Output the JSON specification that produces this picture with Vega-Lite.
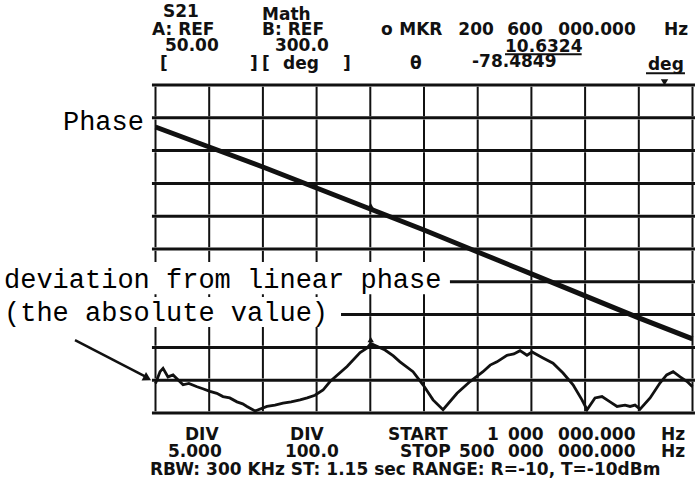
{
  "$schema": "https://vega.github.io/schema/vega-lite/v6.json",
  "width": 537,
  "height": 328,
  "autosize": {"type": "none"},
  "padding": {"left": 155.5, "top": 85, "right": 5.5, "bottom": 66},
  "background": "white",
  "config": {"view": {"stroke": null}},
  "datasets": {
    "vlines": [{"f": 1}, {"f": 50.9}, {"f": 100.8}, {"f": 150.7}, {"f": 200.6}, {"f": 250.5}, {"f": 300.4}, {"f": 350.3}, {"f": 400.2}, {"f": 450.1}, {"f": 500}],
    "hlines": [
      {"d": 50, "f0": -2.3, "f1": 502.3}, {"d": 45, "f0": -2.3, "f1": 502.3}, {"d": 40, "f0": -2.3, "f1": 502.3},
      {"d": 35, "f0": -2.3, "f1": 502.3}, {"d": 30, "f0": -2.3, "f1": 502.3}, {"d": 25, "f0": -2.3, "f1": 502.3},
      {"d": 20, "f0": 274.6, "f1": 502.3}, {"d": 15, "f0": 173.4, "f1": 502.3},
      {"d": 10, "f0": -2.3, "f1": 502.3}, {"d": 5, "f0": -2.3, "f1": 502.3}, {"d": 0, "f0": -2.3, "f1": 502.3}
    ],
    "masks": [
      {"f0": -143.5, "f1": 271.9, "d0": 23.0, "d1": 18.1},
      {"f0": -143.5, "f1": 170.6, "d0": 17.7, "d1": 13.1}
    ],
    "arrow": [{"f0": -73.8, "d0": 11.1, "f1": -7.8, "d1": 5.5}],
    "arrowhead": [{"f": -6.5, "d": 5.3}],
    "underline": [{"f0": 325.8, "f1": 397.0, "d": 54.7}, {"f0": 456.8, "f1": 493.0, "d": 51.8}],
    "phase": [
      {"f": 1, "phase": 172}, {"f": 50.9, "phase": 111}, {"f": 100.8, "phase": 50}, {"f": 150.7, "phase": -14},
      {"f": 200.6, "phase": -78}, {"f": 250.5, "phase": -142}, {"f": 300.4, "phase": -209}, {"f": 350.3, "phase": -276},
      {"f": 400.2, "phase": -343}, {"f": 450.1, "phase": -410}, {"f": 500, "phase": -474}
    ],
    "dev": [
      {"f": 1, "dev": 4.5}, {"f": 5.2, "dev": 6.3}, {"f": 8, "dev": 6.8}, {"f": 12.6, "dev": 5.5}, {"f": 17.3, "dev": 5.8},
      {"f": 26.6, "dev": 4.3}, {"f": 32, "dev": 4.5}, {"f": 39.6, "dev": 4.0}, {"f": 45, "dev": 3.7}, {"f": 51.6, "dev": 3.3},
      {"f": 58, "dev": 3.0}, {"f": 63.7, "dev": 2.5}, {"f": 70, "dev": 2.3}, {"f": 76.7, "dev": 1.7}, {"f": 82, "dev": 1.4},
      {"f": 86, "dev": 1.0}, {"f": 93.5, "dev": 0.3}, {"f": 104.6, "dev": 1.0}, {"f": 112, "dev": 1.2}, {"f": 119.5, "dev": 1.5},
      {"f": 127, "dev": 1.7}, {"f": 135.3, "dev": 2.0}, {"f": 142, "dev": 2.3}, {"f": 149.2, "dev": 2.7}, {"f": 156.7, "dev": 3.5},
      {"f": 163.2, "dev": 4.8}, {"f": 179, "dev": 7.1}, {"f": 191.1, "dev": 9.2}, {"f": 197.6, "dev": 9.9}, {"f": 201, "dev": 10.6},
      {"f": 214.3, "dev": 9.6}, {"f": 222, "dev": 8.7}, {"f": 228.2, "dev": 7.8}, {"f": 240.3, "dev": 6.3}, {"f": 249.6, "dev": 4.3},
      {"f": 258.9, "dev": 2.0}, {"f": 268.2, "dev": 0.5}, {"f": 281.2, "dev": 3.0}, {"f": 293.3, "dev": 4.8}, {"f": 305.3, "dev": 6.3},
      {"f": 312, "dev": 7.3}, {"f": 318.3, "dev": 7.8}, {"f": 327.6, "dev": 8.8}, {"f": 334, "dev": 9.0}, {"f": 339.7, "dev": 9.5},
      {"f": 346.2, "dev": 8.8}, {"f": 350.9, "dev": 9.3}, {"f": 361.1, "dev": 8.4}, {"f": 370.4, "dev": 7.6}, {"f": 379.7, "dev": 6.1},
      {"f": 389, "dev": 4.3}, {"f": 397.3, "dev": 2.0}, {"f": 402, "dev": 0.5}, {"f": 409.4, "dev": 2.3}, {"f": 415.9, "dev": 2.5},
      {"f": 423.4, "dev": 1.7}, {"f": 429.9, "dev": 1.0}, {"f": 437.3, "dev": 1.2}, {"f": 442, "dev": 1.0}, {"f": 446.6, "dev": 1.2},
      {"f": 451.3, "dev": 0.6}, {"f": 460.6, "dev": 2.3}, {"f": 469.9, "dev": 4.6}, {"f": 476, "dev": 5.8}, {"f": 482, "dev": 6.3},
      {"f": 488.5, "dev": 5.5}, {"f": 495, "dev": 4.8}, {"f": 500, "dev": 4.0}
    ],
    "markers_up": [{"f": 201, "d": 11.2}, {"f": 201, "d": 31.6}],
    "markers_down": [{"f": 474, "d": 50.4}],
    "notes": [
      {"f": -85, "d": 43.1, "text": "Phase"},
      {"f": -139.8, "d": 19.05, "text": "deviation from linear phase"},
      {"f": -139.8, "d": 14.0, "text": "(the absolute value)"}
    ],
    "instr": [
      {"f": 8, "d": 60.37, "text": "S21"},
      {"f": 100, "d": 59.9, "text": "Math"},
      {"f": -2.3, "d": 57.62, "text": "A: REF"},
      {"f": 100, "d": 57.62, "text": "B: REF"},
      {"f": 210.5, "d": 57.62, "text": "o"},
      {"f": 227.5, "d": 57.62, "text": "MKR"},
      {"f": 282.4, "d": 57.62, "text": "200"},
      {"f": 327.9, "d": 57.62, "text": "600"},
      {"f": 375.3, "d": 57.62, "text": "000.000"},
      {"f": 473.5, "d": 57.62, "text": "Hz"},
      {"f": 9.8, "d": 55.18, "text": "50.00"},
      {"f": 112, "d": 55.18, "text": "300.0"},
      {"f": 325.8, "d": 55.03, "text": "10.6324"},
      {"f": 5.2, "d": 52.44, "text": "["},
      {"f": 88.8, "d": 52.44, "text": "]"},
      {"f": 100, "d": 52.44, "text": "["},
      {"f": 119.5, "d": 52.44, "text": "deg"},
      {"f": 175.2, "d": 52.44, "text": "]"},
      {"f": 237.5, "d": 52.44, "text": "θ"},
      {"f": 295.1, "d": 52.7, "text": "-78.4849"},
      {"f": 458.6, "d": 52.29, "text": "deg"},
      {"f": 28.4, "d": -4.12, "text": "DIV"},
      {"f": 126, "d": -4.12, "text": "DIV"},
      {"f": 217, "d": -4.12, "text": "START"},
      {"f": 309, "d": -4.12, "text": "1"},
      {"f": 328.6, "d": -4.12, "text": "000"},
      {"f": 375.1, "d": -4.12, "text": "000.000"},
      {"f": 470.8, "d": -4.12, "text": "Hz"},
      {"f": 12.6, "d": -6.7, "text": "5.000"},
      {"f": 121.3, "d": -6.7, "text": "100.0"},
      {"f": 228.2, "d": -6.7, "text": "STOP"},
      {"f": 283, "d": -6.7, "text": "500"},
      {"f": 328.6, "d": -6.7, "text": "000"},
      {"f": 375.1, "d": -6.7, "text": "000.000"},
      {"f": 470.8, "d": -6.7, "text": "Hz"},
      {"f": -4.1, "d": -9.45, "text": "RBW: 300 KHz ST: 1.15 sec RANGE: R=-10, T=-10dBm"}
    ]
  },
  "resolve": {"scale": {"y": "independent"}},
  "layer": [
    {
      "data": {"name": "vlines"},
      "mark": {"type": "rule", "color": "#111", "strokeWidth": 2, "strokeDash": [29.5, 3.3], "strokeDashOffset": 31.15},
      "encoding": {
        "x": {"field": "f", "type": "quantitative", "scale": {"domain": [1, 500], "nice": false, "zero": false}, "axis": null},
        "y": {"datum": 50, "type": "quantitative", "scale": {"domain": [0, 50], "nice": false, "zero": false}, "axis": null},
        "y2": {"datum": 0}
      }
    },
    {
      "data": {"name": "hlines"},
      "mark": {"type": "rule", "color": "#111", "strokeWidth": 3},
      "encoding": {
        "x": {"field": "f0", "type": "quantitative", "scale": {"domain": [1, 500], "nice": false, "zero": false}, "axis": null},
        "x2": {"field": "f1"},
        "y": {"field": "d", "type": "quantitative", "scale": {"domain": [0, 50], "nice": false, "zero": false}, "axis": null}
      }
    },
    {
      "data": {"name": "masks"},
      "mark": {"type": "rect", "color": "white"},
      "encoding": {
        "x": {"field": "f0", "type": "quantitative", "scale": {"domain": [1, 500], "nice": false, "zero": false}, "axis": null},
        "x2": {"field": "f1"},
        "y": {"field": "d0", "type": "quantitative", "scale": {"domain": [0, 50], "nice": false, "zero": false}, "axis": null},
        "y2": {"field": "d1"}
      }
    },
    {
      "data": {"name": "notes"},
      "mark": {"type": "text", "font": "Liberation Mono", "fontSize": 27, "color": "#000", "align": "left", "baseline": "alphabetic"},
      "encoding": {
        "x": {"field": "f", "type": "quantitative", "scale": {"domain": [1, 500], "nice": false, "zero": false}, "axis": null},
        "y": {"field": "d", "type": "quantitative", "scale": {"domain": [0, 50], "nice": false, "zero": false}, "axis": null},
        "text": {"field": "text"}
      }
    },
    {
      "data": {"name": "arrow"},
      "mark": {"type": "rule", "color": "#111", "strokeWidth": 2.5},
      "encoding": {
        "x": {"field": "f0", "type": "quantitative", "scale": {"domain": [1, 500], "nice": false, "zero": false}, "axis": null},
        "x2": {"field": "f1"},
        "y": {"field": "d0", "type": "quantitative", "scale": {"domain": [0, 50], "nice": false, "zero": false}, "axis": null},
        "y2": {"field": "d1"}
      }
    },
    {
      "data": {"name": "arrowhead"},
      "mark": {"type": "point", "shape": "triangle-up", "filled": true, "color": "#111", "size": 90, "angle": 118, "opacity": 1},
      "encoding": {
        "x": {"field": "f", "type": "quantitative", "scale": {"domain": [1, 500], "nice": false, "zero": false}, "axis": null},
        "y": {"field": "d", "type": "quantitative", "scale": {"domain": [0, 50], "nice": false, "zero": false}, "axis": null}
      }
    },
    {
      "data": {"name": "phase"},
      "mark": {"type": "line", "color": "#111", "strokeWidth": 5},
      "encoding": {
        "x": {"field": "f", "type": "quantitative", "scale": {"domain": [1, 500], "nice": false, "zero": false}, "axis": null},
        "y": {"field": "phase", "type": "quantitative", "scale": {"domain": [-700, 300], "nice": false, "zero": false}, "axis": null}
      }
    },
    {
      "data": {"name": "dev"},
      "mark": {"type": "line", "color": "#111", "strokeWidth": 2.8},
      "encoding": {
        "x": {"field": "f", "type": "quantitative", "scale": {"domain": [1, 500], "nice": false, "zero": false}, "axis": null},
        "y": {"field": "dev", "type": "quantitative", "scale": {"domain": [0, 50], "nice": false, "zero": false}, "axis": null}
      }
    },
    {
      "data": {"name": "markers_up"},
      "mark": {"type": "point", "shape": "triangle-up", "filled": true, "color": "#111", "size": 40, "opacity": 1},
      "encoding": {
        "x": {"field": "f", "type": "quantitative", "scale": {"domain": [1, 500], "nice": false, "zero": false}, "axis": null},
        "y": {"field": "d", "type": "quantitative", "scale": {"domain": [0, 50], "nice": false, "zero": false}, "axis": null}
      }
    },
    {
      "data": {"name": "markers_down"},
      "mark": {"type": "point", "shape": "triangle-down", "filled": true, "color": "#111", "size": 55, "opacity": 1},
      "encoding": {
        "x": {"field": "f", "type": "quantitative", "scale": {"domain": [1, 500], "nice": false, "zero": false}, "axis": null},
        "y": {"field": "d", "type": "quantitative", "scale": {"domain": [0, 50], "nice": false, "zero": false}, "axis": null}
      }
    },
    {
      "data": {"name": "underline"},
      "mark": {"type": "rule", "color": "#111", "strokeWidth": 2},
      "encoding": {
        "x": {"field": "f0", "type": "quantitative", "scale": {"domain": [1, 500], "nice": false, "zero": false}, "axis": null},
        "x2": {"field": "f1"},
        "y": {"field": "d", "type": "quantitative", "scale": {"domain": [0, 50], "nice": false, "zero": false}, "axis": null}
      }
    },
    {
      "data": {"name": "instr"},
      "mark": {"type": "text", "font": "DejaVu Sans", "fontWeight": "bold", "fontSize": 17, "color": "#111", "align": "left", "baseline": "alphabetic"},
      "encoding": {
        "x": {"field": "f", "type": "quantitative", "scale": {"domain": [1, 500], "nice": false, "zero": false}, "axis": null},
        "y": {"field": "d", "type": "quantitative", "scale": {"domain": [0, 50], "nice": false, "zero": false}, "axis": null},
        "text": {"field": "text"}
      }
    }
  ]
}
